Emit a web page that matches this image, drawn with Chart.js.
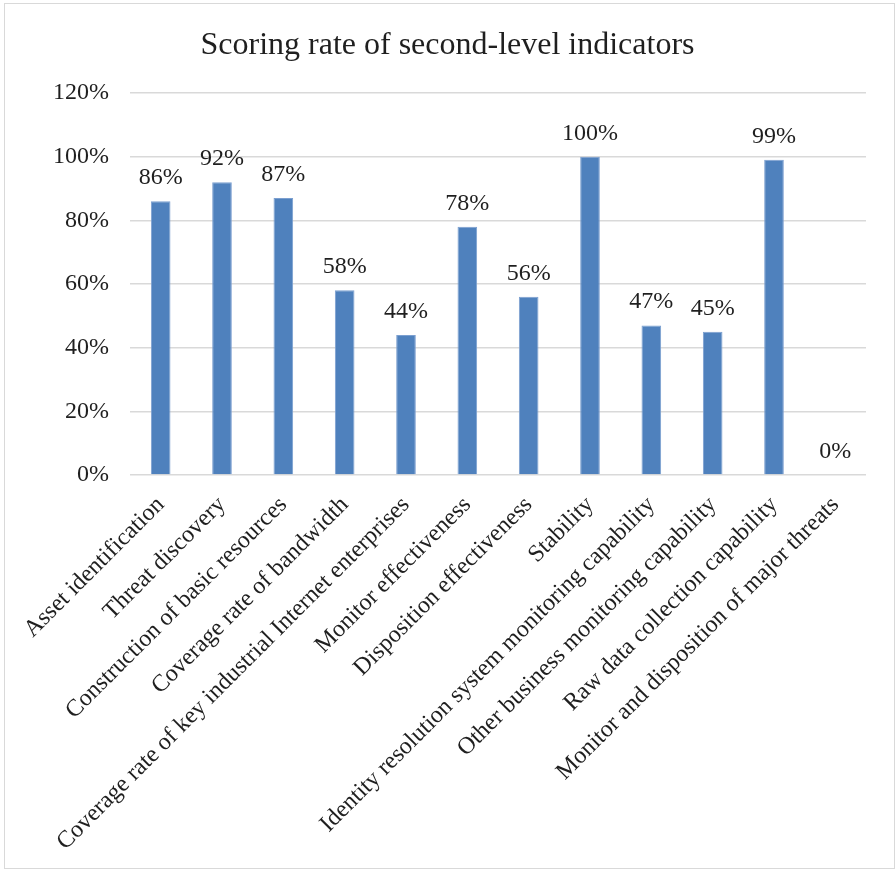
<!DOCTYPE html>
<html>
<head>
<meta charset="utf-8">
<script src="https://cdn.jsdelivr.net/npm/chart.js@4/dist/chart.umd.min.js"></script>
<style>
    html, body { margin: 0; padding: 0; background: #fff; }
    #wrap { position: relative; width: 895px; height: 869px; }
    #frame { position: absolute; left: 4px; top: 3px; width: 889px; height: 864px; border: 1px solid #d9d9d9; pointer-events: none; }
    canvas { position: absolute; left: 0; top: 0; }
</style>
</head>
<body>
<div id="wrap">
    <canvas id="chartScore" width="895" height="869"></canvas>
    <div id="frame"></div>
</div>
<script>
    const titulo = 'Scoring rate of second-level indicators';

    const categorias = [
        'Asset identification',
        'Threat discovery',
        'Construction of basic resources',
        'Coverage rate of bandwidth',
        'Coverage rate of key industrial Internet enterprises',
        'Monitor effectiveness',
        'Disposition effectiveness',
        'Stability',
        'Identity resolution system monitoring capability',
        'Other business monitoring capability',
        'Raw data collection capability',
        'Monitor and disposition of major threats'
    ];

    const valores = [86, 92, 87, 58, 44, 78, 56, 100, 47, 45, 99, 0];

    const ticksY = [0, 20, 40, 60, 80, 100, 120];

    const fonte = '"Liberation Serif", "Times New Roman", serif';
    const corTexto = '#1f1f1f';

    // rotulos de valor acima de cada barra
    const rotulosBarras = {
        id: 'rotulosBarras',
        afterDatasetsDraw(chart) {
            const ctx = chart.ctx;
            const meta = chart.getDatasetMeta(0);
            ctx.save();
            ctx.font = '24px ' + fonte;
            ctx.fillStyle = corTexto;
            ctx.textAlign = 'center';
            ctx.textBaseline = 'alphabetic';
            meta.data.forEach((bar, i) => {
                ctx.fillText(valores[i] + '%', bar.x, bar.y - 17);
            });
            ctx.restore();
        }
    };

    new Chart(document.getElementById('chartScore').getContext('2d'), {
        type: 'bar',
        data: {
            labels: categorias,
            datasets: [{
                data: valores,
                backgroundColor: '#4f81bd',
                borderColor: '#7b9fd0',
                borderWidth: 1,
                categoryPercentage: 1,
                barPercentage: 0.32
            }]
        },
        options: {
            responsive: false,
            animation: false,
            layout: {
                padding: { left: 29, right: 29, top: 16, bottom: 10 }
            },
            plugins: {
                legend: { display: false },
                tooltip: { enabled: false },
                title: {
                    display: true,
                    text: titulo,
                    color: corTexto,
                    font: { family: fonte, size: 32, weight: 'normal' },
                    padding: { top: 10, bottom: 28.6 }
                }
            },
            scales: {
                x: {
                    grid: { display: false },
                    border: { display: false },
                    ticks: {
                        color: corTexto,
                        font: { family: fonte, size: 24 },
                        minRotation: 45,
                        maxRotation: 45,
                        autoSkip: false,
                        padding: 8
                    },
                    afterFit: function(scale) { scale.height = 384; }
                },
                y: {
                    min: 0,
                    max: 120,
                    afterBuildTicks: function(scale) {
                        scale.ticks = ticksY.map(v => ({ value: v }));
                    },
                    grid: { color: '#d9d9d9', lineWidth: 1.5, drawTicks: false },
                    border: { display: false },
                    ticks: {
                        color: corTexto,
                        font: { family: fonte, size: 24 },
                        padding: 21,
                        callback: function(value) { return value + '%'; }
                    },
                    afterFit: function(scale) { scale.width = 101; }
                }
            }
        },
        plugins: [rotulosBarras]
    });
</script>
</body>
</html>
